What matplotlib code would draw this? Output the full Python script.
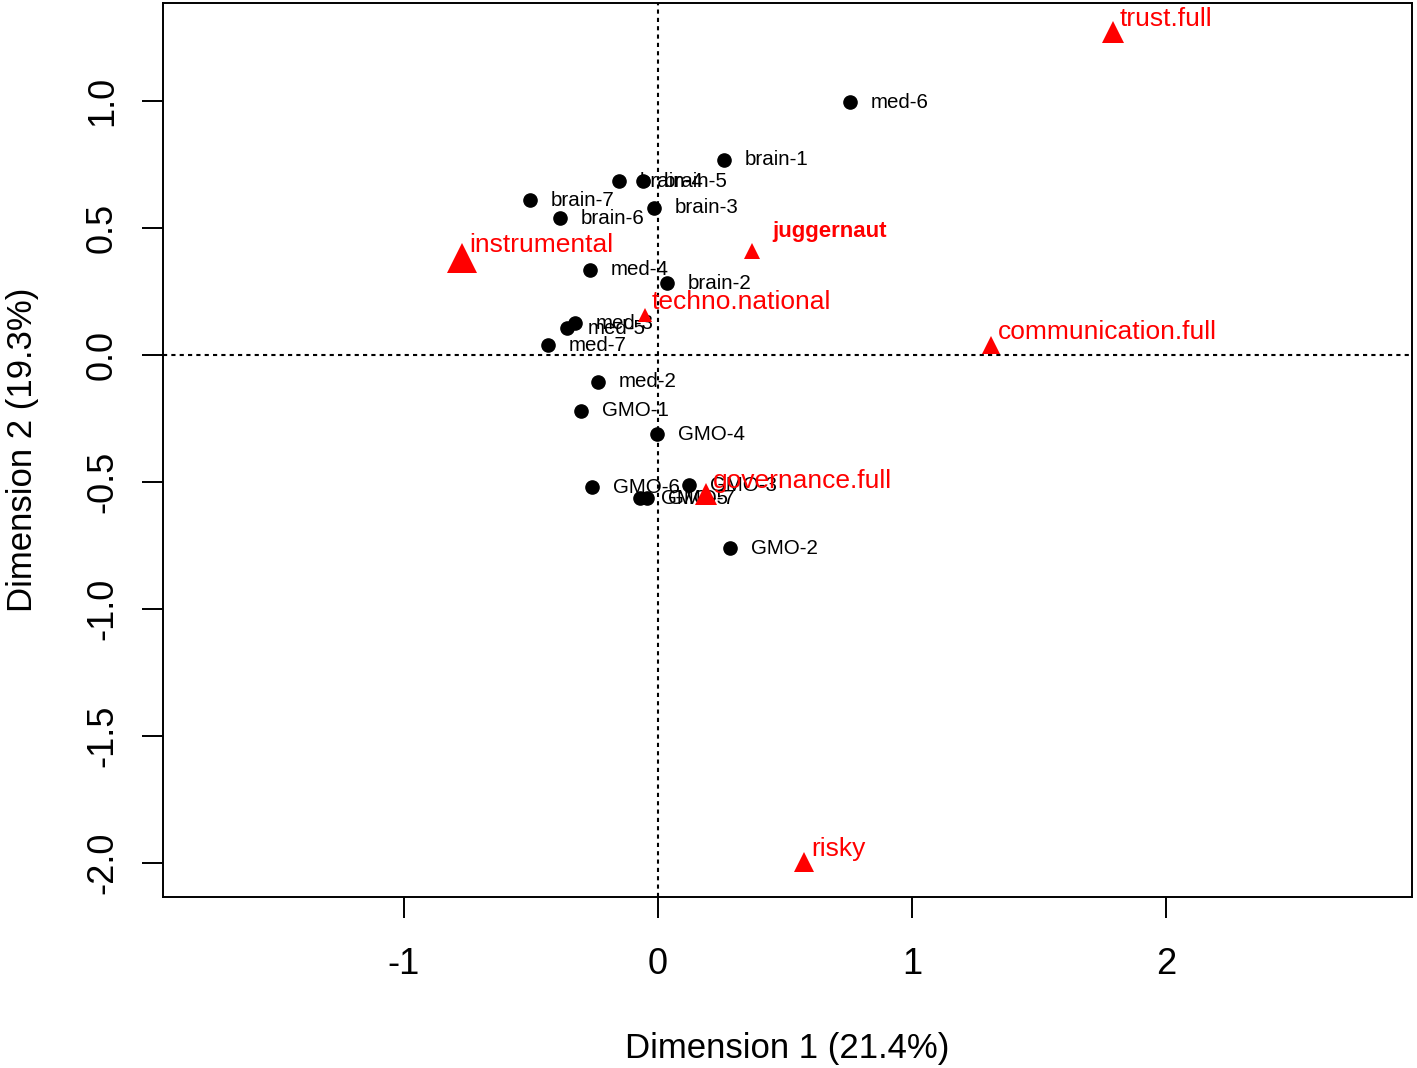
import matplotlib
matplotlib.use("Agg")
from matplotlib import pyplot as plt
import numpy as np

plt.rcParams['font.family'] = ['Liberation Sans', 'DejaVu Sans']

# row points (black dots)
row_names = ['med-6', 'brain-1', 'brain-4', 'brain-5', 'brain-7', 'brain-6', 'brain-3',
             'med-4', 'brain-2', 'med-3', 'med-5', 'med-7', 'med-2', 'GMO-1', 'GMO-4',
             'GMO-6', 'GMO-3', 'GMO-5', 'GMO-7', 'GMO-2']
row_x = np.array([0.756, 0.260, -0.154, -0.059, -0.504, -0.386, -0.016,
                  -0.268, 0.035, -0.327, -0.358, -0.433, -0.236, -0.303, -0.004,
                  -0.260, 0.122, -0.071, -0.043, 0.283])
row_y = np.array([0.996, 0.768, 0.685, 0.685, 0.610, 0.539, 0.579,
                  0.335, 0.283, 0.126, 0.106, 0.039, -0.106, -0.220, -0.311,
                  -0.520, -0.512, -0.563, -0.563, -0.760])

# column points (red triangles)
col_names = ['trust.full', 'instrumental', 'juggernaut', 'techno.national',
             'communication.full', 'governance.full', 'risky']
col_x = np.array([1.791, -0.770, 0.370, -0.051, 1.311, 0.189, 0.575])
col_y = np.array([1.270, 0.382, 0.411, 0.157, 0.039, -0.547, -1.996])
col_size = [16, 22, 11, 10, 13.5, 16, 15]

x_ticks = [-1, 0, 1, 2]
y_ticks = [-2.0, -1.5, -1.0, -0.5, 0.0, 0.5, 1.0]

fig = plt.figure(figsize=(14.17, 10.68), dpi=100)
ax = fig.add_axes([0.115, 0.1601, 0.8815, 0.8371])

ax.axhline(0, color='black', lw=1.5, ls=(0, (2, 2)), zorder=1)
ax.axvline(0, color='black', lw=1.5, ls=(0, (2, 2)), zorder=1)

for name, x, y in zip(row_names, row_x, row_y):
    ax.annotate(name, (x, y), xytext=(15, 0), textcoords='offset points',
                ha='left', va='center', fontsize=14.8, color='black', zorder=3)
ax.plot(row_x, row_y, 'o', color='black', markersize=9.5, zorder=4)

for name, x, y, s in zip(col_names, col_x, col_y, col_size):
    ax.plot(x, y, '^', color='red', markersize=s, markeredgewidth=0, zorder=5)
    if name == 'juggernaut':
        ax.annotate(name, (x, y), xytext=(15, 10), textcoords='offset points',
                    ha='left', va='baseline', fontsize=16, fontweight='bold',
                    color='red', zorder=6)
    else:
        ax.annotate(name, (x, y), xytext=(5, 4.3), textcoords='offset points',
                    ha='left', va='baseline', fontsize=19, color='red', zorder=6)

ax.set_xlim(-1.949, 2.969)
ax.set_ylim(-2.134, 1.386)
ax.set_xticks(x_ticks)
ax.set_xticklabels([str(t) for t in x_ticks])
ax.set_yticks(y_ticks)
ax.set_yticklabels([f'{t:.1f}' for t in y_ticks], rotation=90, va='center')
ax.tick_params(axis='both', length=15, width=1.4, labelsize=26)
ax.tick_params(axis='x', pad=21)
ax.tick_params(axis='y', pad=16)
for sp in ax.spines.values():
    sp.set_linewidth(1.4)

ax.set_xlabel('Dimension 1 (21.4%)', fontsize=25, labelpad=36)
ax.set_ylabel('Dimension 2 (19.3%)', fontsize=25, labelpad=33)

plt.savefig('out.png', dpi=100)
